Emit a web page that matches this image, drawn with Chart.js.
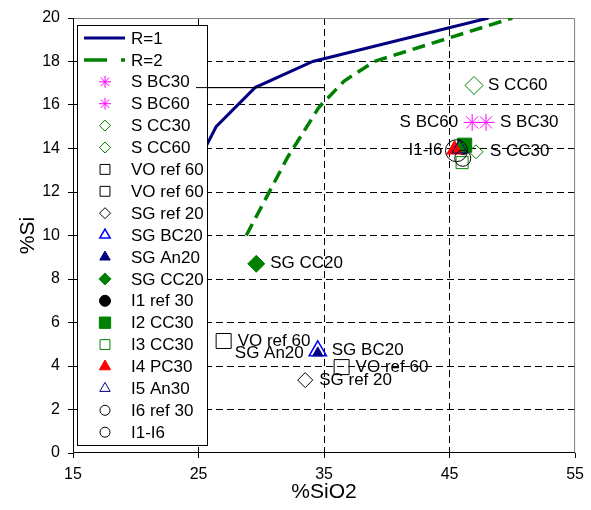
<!DOCTYPE html>
<html lang="en">
<head>
    <meta charset="UTF-8">
    <title>%Si vs %SiO2</title>
    <script src="https://cdn.jsdelivr.net/npm/chart.js"></script>
    <style>
        html, body { margin: 0; padding: 0; background: #fff; }
        canvas { display: block; }
    </style>
</head>
<body>
    <canvas id="siChart" width="591" height="510"></canvas>

    <script>
// Axis ticks
const xTickValues = [15, 25, 35, 45, 55];
const yTickValues = [0, 2, 4, 6, 8, 10, 12, 14, 16, 18, 20];

// Curves R=1 and R=2
const r1SiO2 = [25.6, 26.4, 29.5, 34.1, 48.1];
const r1Si = [14.1, 15.0, 16.8, 18.0, 20.0];
const r2SiO2 = [28.8, 32.1, 34.6, 36.6, 39.0, 50.0];
const r2Si = [10.0, 13.6, 15.9, 17.1, 18.0, 20.0];

// Thin black line next to the legend
const leaderSiO2 = [24.8, 35.0];
const leaderSi = [16.8, 16.8];

// One point per marker series
const markerNames = ["S BC30", "S BC60", "S CC30", "S CC60", "VO ref 60", "VO ref 60", "SG ref 20",
    "SG BC20", "SG An20", "SG CC20", "I1 ref 30", "I2 CC30", "I3 CC30", "I4 PC30", "I5 An30",
    "I6 ref 30", "I1-I6"];
const markerSiO2 = [47.9, 46.8, 47.1, 46.95, 27.0, 36.4, 33.5, 34.5, 34.5, 29.6, 46.1, 46.2, 46.0,
    45.4, 45.8, 46.05, 45.55];
const markerSi = [15.2, 15.2, 13.85, 16.9, 5.15, 3.95, 3.35, 4.7, 4.6, 8.7, 14.0, 14.15, 13.35,
    13.95, 14.0, 13.55, 13.9];
// Text written next to the points in the plot ("" = none)
const markerLabels = ["S BC30", "S BC60", "S CC30", "S CC60", "VO ref 60", "VO ref 60", "SG ref 20",
    "SG BC20", "SG An20", "SG CC20", "", "", "", "", "", "", "I1-I6"];

// Marker looks: shape, size in plot, size in legend, colour, filled, label side
const markerStyles = [
    { shape: 'star', r: 8.5, lr: 6, color: '#FF00FF', fill: false, side: 'right' },
    { shape: 'star', r: 8.5, lr: 6, color: '#FF00FF', fill: false, side: 'left' },
    { shape: 'rectRot', r: 7, lr: 5.5, color: '#008000', fill: false, side: 'right' },
    { shape: 'rectRot', r: 9, lr: 5.5, color: '#008000', fill: false, side: 'right' },
    { shape: 'rect', r: 10.6, lr: 7, color: '#000000', fill: false, side: 'right' },
    { shape: 'rect', r: 10.6, lr: 7, color: '#000000', fill: false, side: 'right' },
    { shape: 'rectRot', r: 7.5, lr: 5.5, color: '#000000', fill: false, side: 'right' },
    { shape: 'triangle', r: 10, lr: 6, color: '#0000FF', fill: false, side: 'right', width: 1.5 },
    { shape: 'triangle', r: 6, lr: 6, color: '#000080', fill: true, side: 'left' },
    { shape: 'rectRot', r: 8.5, lr: 6, color: '#008000', fill: true, side: 'right' },
    { shape: 'circle', r: 6, lr: 5.5, color: '#000000', fill: true, side: 'right' },
    { shape: 'rect', r: 10, lr: 8, color: '#008000', fill: true, side: 'right' },
    { shape: 'rect', r: 8.5, lr: 7, color: '#008000', fill: false, side: 'right' },
    { shape: 'triangle', r: 9, lr: 6.5, color: '#FF0000', fill: true, side: 'right' },
    { shape: 'triangle', r: 9, lr: 6, color: '#000080', fill: false, side: 'right' },
    { shape: 'circle', r: 8, lr: 5, color: '#000000', fill: false, side: 'right' },
    { shape: 'circle', r: 11, lr: 5, color: '#000000', fill: false, side: 'left' }
];

const FONT = "'Liberation Sans', Arial, sans-serif";

function toPoints(xs, ys) {
    return xs.map((x, i) => ({ x: x, y: ys[i] }));
}

// Build datasets
function buildDatasets() {
    const sets = [];
    sets.push({
        label: "R=1", kind: 'line', data: toPoints(r1SiO2, r1Si), showLine: true,
        borderColor: '#000080', borderWidth: 3, pointRadius: 0, tension: 0
    });
    sets.push({
        label: "R=2", kind: 'line', data: toPoints(r2SiO2, r2Si), showLine: true,
        borderColor: '#008000', borderWidth: 3.5, borderDash: [13, 7], pointRadius: 0, tension: 0,
        legendDash: [23, 14]
    });
    markerNames.forEach((name, i) => {
        const st = markerStyles[i];
        sets.push({
            label: name, kind: 'marker', style: st, pointText: markerLabels[i],
            data: [{ x: markerSiO2[i], y: markerSi[i] }],
            showLine: false,
            pointStyle: st.shape,
            pointRadius: st.r,
            pointBorderColor: st.color,
            pointBackgroundColor: st.fill ? st.color : 'rgba(0,0,0,0)',
            pointBorderWidth: st.width || 1
        });
    });
    sets.push({
        label: "", kind: 'leader', data: toPoints(leaderSiO2, leaderSi), showLine: true,
        borderColor: '#000000', borderWidth: 1, pointRadius: 0
    });
    // later series on top, like the original
    const n = sets.length;
    sets.forEach((s, i) => { s.order = n - i; });
    return sets;
}

// Draws one marker shape at (x, y)
function drawMarker(ctx, st, x, y, r) {
    ctx.save();
    ctx.strokeStyle = st.color;
    ctx.fillStyle = st.fill ? st.color : 'rgba(0,0,0,0)';
    ctx.lineWidth = st.width || 1;
    Chart.helpers.drawPoint(ctx, { pointStyle: st.shape, radius: r, rotation: 0, borderWidth: st.width || 1 }, x, y);
    ctx.restore();
}

// Plot frame: grey box, black axes
const framePlugin = {
    id: 'frame',
    beforeDatasetsDraw(chart) {
        const a = chart.chartArea;
        const ctx = chart.ctx;
        ctx.save();
        ctx.lineWidth = 1;
        ctx.strokeStyle = '#808080';
        ctx.beginPath();
        ctx.moveTo(a.left, a.top + 0.5);
        ctx.lineTo(a.right - 0.5, a.top + 0.5);
        ctx.lineTo(a.right - 0.5, a.bottom);
        ctx.stroke();
        ctx.strokeStyle = '#000';
        ctx.beginPath();
        ctx.moveTo(a.left + 0.5, a.top);
        ctx.lineTo(a.left + 0.5, a.bottom - 0.5);
        ctx.lineTo(a.right, a.bottom - 0.5);
        ctx.stroke();
        ctx.restore();
    }
};

// Point labels, legend box, then the thin line over the legend
const overlayPlugin = {
    id: 'overlay',
    afterDatasetsDraw(chart) {
        const ctx = chart.ctx;
        const sets = chart.data.datasets;

        // labels next to points
        ctx.save();
        ctx.font = '17px ' + FONT;
        ctx.fillStyle = '#000';
        ctx.textBaseline = 'middle';
        sets.forEach((ds, i) => {
            if (ds.kind !== 'marker' || !ds.pointText) return;
            const el = chart.getDatasetMeta(i).data[0];
            if (ds.style.side === 'left') {
                ctx.textAlign = 'right';
                ctx.fillText(ds.pointText, el.x - 14, el.y);
            } else {
                ctx.textAlign = 'left';
                ctx.fillText(ds.pointText, el.x + 14, el.y);
            }
        });
        ctx.restore();

        // legend box
        const box = { left: 77, top: 25, right: 208, bottom: 446 };
        ctx.save();
        ctx.fillStyle = '#fff';
        ctx.fillRect(box.left, box.top, box.right - box.left, box.bottom - box.top);
        ctx.strokeStyle = '#000';
        ctx.lineWidth = 1;
        ctx.strokeRect(box.left + 0.5, box.top + 0.5, box.right - box.left - 1, box.bottom - box.top - 1);

        const entries = sets.filter(ds => ds.kind !== 'leader');
        const rowStart = 38, rowStep = 21.9;
        ctx.font = '17px ' + FONT;
        ctx.textBaseline = 'middle';
        ctx.textAlign = 'left';
        entries.forEach((ds, k) => {
            const y = rowStart + k * rowStep;
            if (ds.kind === 'line') {
                ctx.save();
                ctx.strokeStyle = ds.borderColor;
                ctx.lineWidth = ds.borderWidth;
                ctx.setLineDash(ds.legendDash || []);
                ctx.beginPath();
                ctx.moveTo(84, y);
                ctx.lineTo(125, y);
                ctx.stroke();
                ctx.restore();
            } else {
                drawMarker(ctx, ds.style, 105, y, ds.style.lr);
            }
            ctx.fillStyle = '#000';
            ctx.fillText(ds.label, 131, y + 1);
        });
        ctx.restore();

        // thin black line drawn over the legend
        sets.forEach((ds, i) => {
            if (ds.kind === 'leader') chart.getDatasetMeta(i).controller.draw();
        });
    }
};

function gridColor(edgeA, edgeB) {
    return ctx => (ctx.tick && (ctx.tick.value === edgeA || ctx.tick.value === edgeB)) ? 'rgba(0,0,0,0)' : '#000';
}

function createChart() {
    new Chart(document.getElementById('siChart'), {
        type: 'scatter',
        data: { datasets: buildDatasets() },
        options: {
            responsive: false,
            animation: false,
            devicePixelRatio: 1,
            layout: { padding: { left: 0, right: 11, top: 18, bottom: 0 } },
            plugins: {
                legend: { display: false },
                tooltip: { enabled: false }
            },
            scales: {
                x: {
                    type: 'linear',
                    min: xTickValues[0],
                    max: xTickValues[xTickValues.length - 1],
                    afterBuildTicks: scale => { scale.ticks = xTickValues.map(v => ({ value: v })); },
                    afterFit: scale => { scale.height = 57; },
                    ticks: { color: '#000', font: { family: FONT, size: 16 }, padding: 7, maxRotation: 0 },
                    grid: { color: gridColor(15, 55), tickColor: '#000', tickLength: 5, lineWidth: 1 },
                    border: { display: false, dash: [7, 4] },
                    title: {
                        display: true, text: '%SiO2', color: '#000',
                        font: { family: FONT, size: 21 }, padding: { top: 0, bottom: 5 }
                    }
                },
                y: {
                    type: 'linear',
                    min: yTickValues[0],
                    max: yTickValues[yTickValues.length - 1],
                    afterBuildTicks: scale => { scale.ticks = yTickValues.map(v => ({ value: v })); },
                    afterFit: scale => { scale.width = 73; },
                    ticks: { color: '#000', font: { family: FONT, size: 16 }, padding: 8 },
                    grid: { color: gridColor(0, 20), tickColor: '#000', tickLength: 5, lineWidth: 1 },
                    border: { display: false, dash: [7, 4] },
                    title: {
                        display: true, text: '%Si', color: '#000',
                        font: { family: FONT, size: 21 }, padding: { top: 16, bottom: 0 }
                    }
                }
            }
        },
        plugins: [framePlugin, overlayPlugin]
    });
}

document.addEventListener('DOMContentLoaded', createChart);
    </script>
</body>
</html>
